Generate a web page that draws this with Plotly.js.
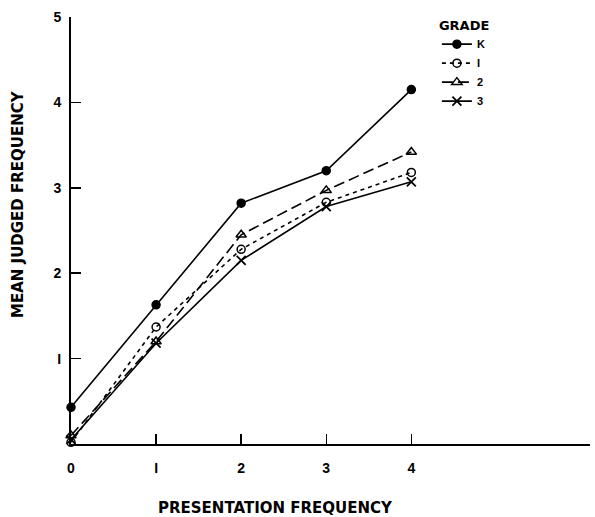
<!DOCTYPE html>
<html>
<head>
<meta charset="utf-8">
<script src="https://cdn.plot.ly/plotly-3.0.1.min.js"></script>
<style>html,body{margin:0;padding:0;background:#fff;}#chart{width:595px;height:517px;}</style>
</head>
<body>
<div id="chart"></div>
<script>
const presentation = [0, 1, 2, 3, 4];
const gradeK = [0.43, 1.63, 2.82, 3.20, 4.15];
const grade1 = [0.02, 1.37, 2.28, 2.83, 3.18];
const grade2 = [0.10, 1.20, 2.45, 2.97, 3.42];
const grade3 = [0.05, 1.18, 2.15, 2.78, 3.07];
const gradeNames = ['K', 'I', '2', '3'];
const xTicks = [0, 1, 2, 3, 4];
const xTickText = ['0', 'I', '2', '3', '4'];
const yTicks = [1, 2, 3, 4, 5];
const yTickText = ['I', '2', '3', '4', '5'];

const series = [gradeK, grade1, grade2, grade3];
const styles = [
  {symbol: 'circle', size: 8, color: '#000', line: {color: '#000', width: 1.5}, dash: 'solid'},
  {symbol: 'circle-open', size: 8, color: '#000', line: {color: '#000', width: 1.5}, dash: '4px,4px'},
  {symbol: 'triangle-up-open', size: 9, color: '#000', line: {color: '#000', width: 1.5}, dash: '11px,5px'},
  {symbol: 'x-thin-open', size: 9, color: '#000', line: {color: '#000', width: 1.8}, dash: 'solid'}
];

const traces = series.map((ys, i) => ({
  x: presentation,
  y: ys,
  name: gradeNames[i],
  type: 'scatter',
  mode: 'lines+markers',
  cliponaxis: false,
  line: {color: '#000', width: 1.6, dash: styles[i].dash},
  marker: {symbol: styles[i].symbol, size: styles[i].size, color: styles[i].color, line: styles[i].line}
}));

const titleFont = {size: 15, family: 'DejaVu Sans, sans-serif', weight: 'bold', color: '#000'};

const layout = {
  width: 595, height: 517,
  margin: {l: 71, r: 5, t: 17, b: 73},
  paper_bgcolor: '#fff', plot_bgcolor: '#fff',
  font: {family: 'Liberation Sans, Arial, sans-serif', color: '#000'},
  showlegend: true,
  legend: {
    x: 0.705, y: 1.01, xanchor: 'left', yanchor: 'top',
    bgcolor: 'rgba(0,0,0,0)',
    font: {size: 11, family: 'Liberation Sans, Arial, sans-serif', weight: 'bold'},
    title: {text: 'GRADE', font: {size: 13, family: 'DejaVu Sans, sans-serif', weight: 'bold'}},
    itemwidth: 30,
    tracegroupgap: 0
  },
  xaxis: {
    range: [0, 6.1], showgrid: false, zeroline: false,
    showline: true, linecolor: '#000', linewidth: 2,
    ticks: 'inside', ticklen: 10, tickwidth: 1.5, tickcolor: '#000',
    tickvals: xTicks, ticktext: xTickText,
    tickfont: {size: 14, weight: 'bold'},
    ticklabelstandoff: 10,
    fixedrange: true
  },
  yaxis: {
    range: [0, 5], showgrid: false, zeroline: false,
    showline: true, linecolor: '#000', linewidth: 2,
    ticks: 'inside', ticklen: 10, tickwidth: 1.5, tickcolor: '#000',
    tickvals: yTicks, ticktext: yTickText,
    tickfont: {size: 14, weight: 'bold'},
    ticklabelstandoff: 5,
    fixedrange: true
  },
  annotations: [
    {text: 'PRESENTATION FREQUENCY', xref: 'paper', yref: 'paper',
     x: (275 - 71) / 519, y: (444 - 508) / 427, xanchor: 'center', yanchor: 'middle',
     showarrow: false, font: titleFont},
    {text: 'MEAN JUDGED FREQUENCY', xref: 'paper', yref: 'paper',
     x: (18 - 71) / 519, y: (444 - 204) / 427, xanchor: 'center', yanchor: 'middle',
     textangle: -90, showarrow: false, font: titleFont}
  ]
};

Plotly.newPlot('chart', traces, layout, {displayModeBar: false, staticPlot: true});
</script>
</body>
</html>
